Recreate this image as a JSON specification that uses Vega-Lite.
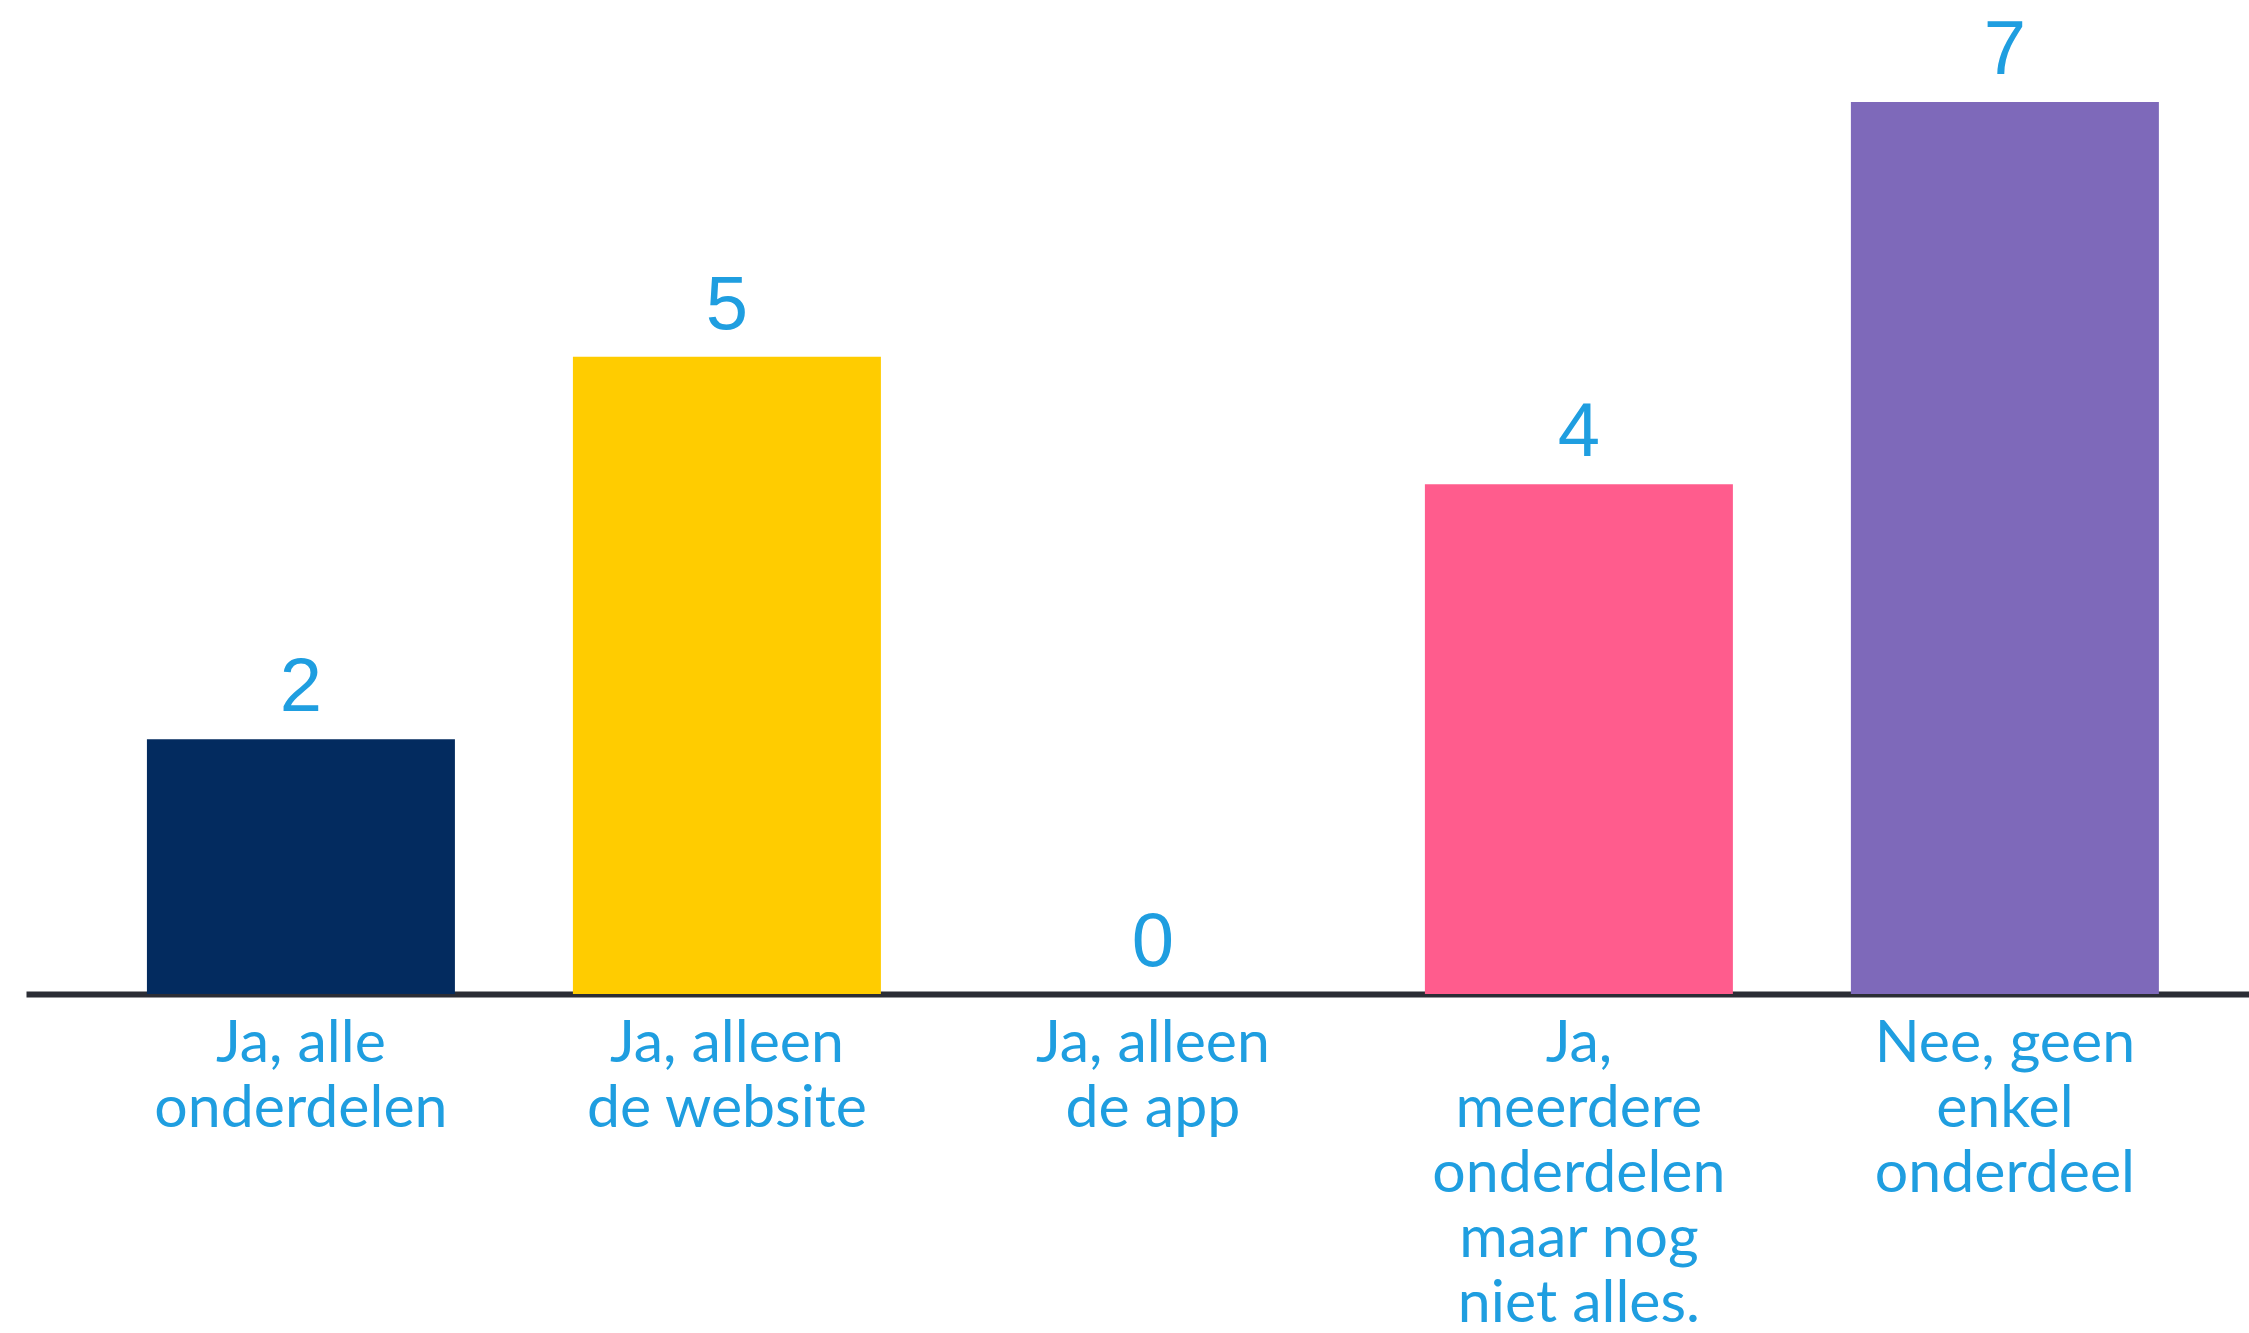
{
  "$schema": "https://vega.github.io/schema/vega-lite/v6.json",
  "autosize": "none",
  "width": 2223,
  "height": 994,
  "padding": {"left": 26, "top": 0, "right": 0, "bottom": 339},
  "background": "white",
  "data": {
    "values": [
      {"cat": "Ja, alle|onderdelen", "value": 2},
      {"cat": "Ja, alleen|de website", "value": 5},
      {"cat": "Ja, alleen|de app", "value": 0},
      {"cat": "Ja,|meerdere|onderdelen|maar nog|niet alles.", "value": 4},
      {"cat": "Nee, geen|enkel|onderdeel", "value": 7}
    ]
  },
  "encoding": {
    "x": {
      "field": "cat",
      "type": "nominal",
      "sort": null,
      "scale": {"paddingInner": 0.277, "paddingOuter": 0.2477, "align": 0.573},
      "axis": {
        "title": null,
        "labelAngle": 0,
        "ticks": false,
        "domainColor": "#2b2d35",
        "domainWidth": 6,
        "labelExpr": "split(datum.value, '|')",
        "labelFont": "Lato",
        "labelFontSize": 59,
        "labelLineHeight": 65,
        "labelColor": "#1f9ee0",
        "labelPadding": 20,
        "labelLimit": 0,
        "labelBaseline": "top",
        "labelAlign": "center"
      }
    },
    "y": {
      "field": "value",
      "type": "quantitative",
      "scale": {"domain": [0, 7.8], "nice": false, "zero": true},
      "axis": null
    }
  },
  "layer": [
    {
      "mark": {"type": "bar"},
      "encoding": {
        "color": {
          "field": "cat",
          "type": "nominal",
          "sort": null,
          "scale": {"range": ["#032b5f", "#ffcc00", "#ffffff", "#ff5c8d", "#7e69ba"]},
          "legend": null
        }
      }
    },
    {
      "mark": {"type": "text", "font": "Liberation Sans", "fontSize": 76, "color": "#1f9ee0", "baseline": "alphabetic", "dy": -28},
      "encoding": {"text": {"field": "value", "type": "quantitative"}}
    }
  ],
  "config": {"view": {"stroke": null}}
}
